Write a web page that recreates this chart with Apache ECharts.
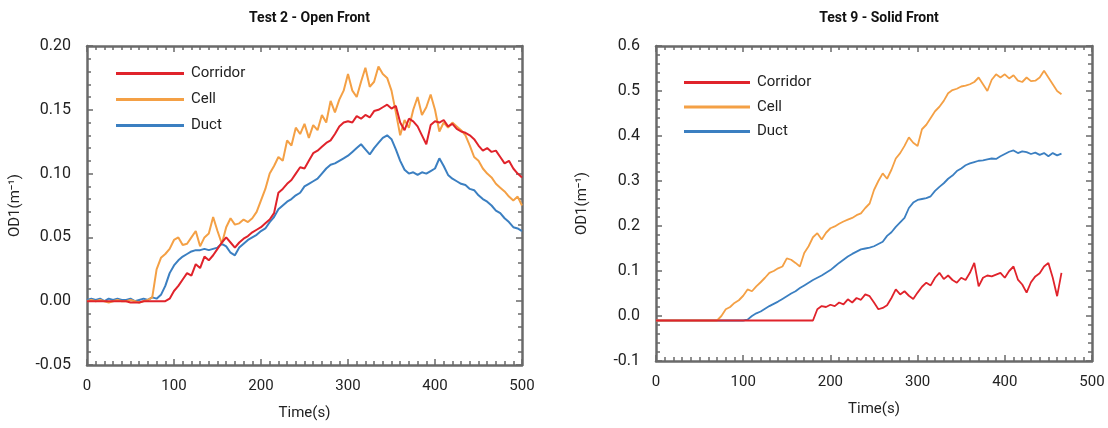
<!DOCTYPE html>
<html>
<head>
<meta charset="utf-8">
<script src="https://cdn.jsdelivr.net/npm/echarts@6/dist/echarts.min.js"></script>
<style>
  body { margin: 0; background: #fff; }
  #wrap { width: 1108px; height: 428px; display: flex; }
  #left, #right { width: 554px; height: 428px; }
</style>
</head>
<body>
<div id="wrap"><div id="left"></div><div id="right"></div></div>
<script>
const step = 5
const seriesNames = ['Corridor', 'Cell', 'Duct']
const colors = ['#e0232b', '#f4a045', '#3b7fc1']

// Test 2 - Open Front (t = 0 .. 500)
const openCorridor = [
  0, 0, 0, 0, 0, 0, 0, 0, 0, 0, -0.001, -0.001, -0.001, 0, 0, 0, 0, 0, 0,
  0.002, 0.008, 0.012, 0.017, 0.022, 0.020, 0.029, 0.026, 0.035, 0.032, 0.036,
  0.041, 0.046, 0.050, 0.046, 0.042, 0.046, 0.049, 0.051, 0.054, 0.056,
  0.058, 0.061, 0.064, 0.069, 0.085, 0.088, 0.092, 0.095, 0.100, 0.105,
  0.104, 0.110, 0.116, 0.118, 0.121, 0.124, 0.126, 0.131, 0.137, 0.140,
  0.141, 0.140, 0.145, 0.143, 0.146, 0.144, 0.149, 0.150, 0.152, 0.154,
  0.151, 0.153, 0.140, 0.134, 0.143, 0.141, 0.137, 0.130, 0.123, 0.138,
  0.141, 0.140, 0.142, 0.137, 0.139, 0.135, 0.133, 0.132, 0.130, 0.127,
  0.122, 0.118, 0.120, 0.117, 0.118, 0.113, 0.108, 0.110, 0.104, 0.100, 0.097
]
const openCell = [
  0, 0.001, 0, 0.001, 0, -0.001, 0, 0.001, 0, 0, 0.001, 0, -0.001, 0, 0.001,
  0.003, 0.025, 0.034, 0.037, 0.041, 0.048, 0.050, 0.044, 0.045, 0.050,
  0.055, 0.043, 0.050, 0.053, 0.066, 0.055, 0.045, 0.058, 0.065, 0.060,
  0.061, 0.064, 0.062, 0.065, 0.070, 0.079, 0.088, 0.100, 0.106, 0.113,
  0.110, 0.126, 0.122, 0.136, 0.131, 0.139, 0.128, 0.138, 0.134, 0.146,
  0.140, 0.157, 0.148, 0.158, 0.165, 0.178, 0.165, 0.160, 0.172, 0.183,
  0.168, 0.172, 0.184, 0.178, 0.175, 0.165, 0.148, 0.130, 0.142, 0.136,
  0.150, 0.160, 0.146, 0.152, 0.162, 0.150, 0.133, 0.140, 0.136, 0.140,
  0.137, 0.134, 0.130, 0.122, 0.113, 0.110, 0.104, 0.100, 0.097, 0.092,
  0.089, 0.086, 0.082, 0.079, 0.082, 0.075
]
const openDuct = [
  0.001, 0.002, 0.001, 0.002, 0, 0.002, 0.001, 0.002, 0.001, 0.001, 0.002,
  0, 0.001, 0.002, 0.001, 0.003, 0.002,
  0.005, 0.012, 0.022, 0.028, 0.032, 0.035, 0.037, 0.039, 0.040, 0.040,
  0.041, 0.040, 0.041, 0.042, 0.045, 0.043, 0.038, 0.036, 0.042, 0.045,
  0.048, 0.050, 0.052, 0.055, 0.057, 0.062, 0.066, 0.072, 0.075, 0.078,
  0.080, 0.083, 0.085, 0.090, 0.092, 0.094, 0.096, 0.100, 0.104, 0.107,
  0.108, 0.110, 0.112, 0.114, 0.117, 0.120, 0.123, 0.119, 0.115, 0.120,
  0.124, 0.128, 0.130, 0.127, 0.119, 0.110, 0.103, 0.100, 0.101, 0.099,
  0.101, 0.100, 0.102, 0.104, 0.112, 0.106, 0.099, 0.096, 0.094, 0.092,
  0.091, 0.088, 0.087, 0.083, 0.080, 0.078, 0.075, 0.071, 0.069, 0.065,
  0.062, 0.058, 0.057, 0.055
]

// Test 9 - Solid Front (t = 0 .. 465)
const solidCorridor = [
  -0.01, -0.01, -0.01, -0.01, -0.01, -0.01, -0.01, -0.01, -0.01, -0.01,
  -0.01, -0.01, -0.01, -0.01, -0.01, -0.01, -0.01, -0.01, -0.01, -0.01,
  -0.01, -0.01, -0.01, -0.01, -0.01, -0.01, -0.01, -0.01, -0.01, -0.01,
  -0.01, -0.01, -0.01, -0.01, -0.01, -0.01, -0.01,
  0.015, 0.022, 0.020, 0.025, 0.022, 0.030, 0.026, 0.037, 0.030, 0.040,
  0.036, 0.048, 0.044, 0.030, 0.015, 0.018, 0.024, 0.040, 0.059, 0.048,
  0.055, 0.045, 0.038, 0.052, 0.065, 0.074, 0.068, 0.085, 0.096, 0.082,
  0.090, 0.080, 0.074, 0.085, 0.080, 0.096, 0.118, 0.066, 0.085, 0.090,
  0.088, 0.092, 0.096, 0.085, 0.100, 0.110, 0.081, 0.070, 0.052, 0.075,
  0.088, 0.095, 0.110, 0.118, 0.085, 0.044, 0.096
]
const solidCell = [
  -0.01, -0.01, -0.01, -0.01, -0.01, -0.01, -0.01, -0.01, -0.01, -0.01,
  -0.01, -0.01, -0.01, -0.01, -0.01,
  0.000, 0.015, 0.020, 0.029, 0.035, 0.045, 0.059, 0.055, 0.066, 0.075,
  0.085, 0.096, 0.100, 0.106, 0.110, 0.128, 0.125, 0.118, 0.110, 0.140,
  0.155, 0.175, 0.184, 0.170, 0.185, 0.195, 0.199, 0.205, 0.210, 0.214,
  0.218, 0.224, 0.228, 0.240, 0.250, 0.280, 0.300, 0.317, 0.305, 0.325,
  0.350, 0.362, 0.378, 0.397, 0.385, 0.378, 0.415, 0.425, 0.440, 0.455,
  0.465, 0.478, 0.495, 0.502, 0.505, 0.510, 0.512, 0.515, 0.520, 0.530,
  0.515, 0.500, 0.525, 0.537, 0.530, 0.537, 0.528, 0.535, 0.523, 0.520,
  0.530, 0.522, 0.523, 0.530, 0.545, 0.530, 0.515, 0.500, 0.493
]
const solidDuct = [
  -0.01, -0.01, -0.01, -0.01, -0.01, -0.01, -0.01, -0.01, -0.01, -0.01,
  -0.01, -0.01, -0.01, -0.01, -0.01, -0.01, -0.01, -0.01, -0.01, -0.01,
  -0.01,
  -0.008, 0.000, 0.006, 0.010, 0.016, 0.022, 0.027, 0.032, 0.038, 0.044,
  0.050, 0.055, 0.062, 0.068, 0.074, 0.080, 0.085, 0.090, 0.096, 0.102,
  0.110, 0.118, 0.125, 0.132, 0.138, 0.143, 0.148, 0.150, 0.152, 0.155,
  0.160, 0.165, 0.178, 0.186, 0.198, 0.208, 0.218, 0.240, 0.252, 0.258,
  0.260, 0.262, 0.266, 0.278, 0.287, 0.295, 0.305, 0.312, 0.322, 0.328,
  0.335, 0.339, 0.342, 0.345, 0.346, 0.348, 0.350, 0.349, 0.355, 0.360,
  0.365, 0.368, 0.362, 0.366, 0.364, 0.360, 0.363, 0.358, 0.362, 0.355,
  0.362, 0.357, 0.361
]

function pairs(arr) {
  return arr.map((v, i) => [i * step, v])
}

const font = 'Roboto, "Noto Sans", sans-serif'
const frame = '#6a6a6a'

function axisBase() {
  return {
    type: 'value',
    axisLine: { show: true, onZero: false, lineStyle: { color: frame, width: 2.5 } },
    axisTick: { show: true, inside: true, length: 6, lineStyle: { color: frame, width: 1.5 } },
    minorTick: { show: true, length: 4, lineStyle: { color: frame, width: 1.5 } },
    splitLine: { show: false },
    minorSplitLine: { show: false }
  }
}

function xAxes() {
  const bottom = Object.assign(axisBase(), {
    min: 0, max: 500, interval: 100, position: 'bottom',
    name: 'Time(s)', nameLocation: 'middle', nameGap: 41,
    nameTextStyle: { fontFamily: font, fontSize: 15, color: '#222' },
    axisLabel: { fontFamily: font, fontSize: 15, color: '#222', margin: 14 }
  })
  bottom.minorTick.splitNumber = 10
  const top = Object.assign(axisBase(), {
    min: 0, max: 500, interval: 100, position: 'top', axisLabel: { show: false }
  })
  top.minorTick.splitNumber = 10
  return [bottom, top]
}

function yAxes(min, max, interval, digits, gap) {
  const left = Object.assign(axisBase(), {
    min: min, max: max, interval: interval, position: 'left',
    name: 'OD1(m⁻¹)', nameLocation: 'middle', nameGap: gap,
    nameTextStyle: { fontFamily: font, fontSize: 15, color: '#222' },
    axisLabel: {
      fontFamily: font, fontSize: 16, color: '#222', margin: 16,
      formatter: v => Number(v).toFixed(digits)
    }
  })
  const right = Object.assign(axisBase(), {
    min: min, max: max, interval: interval, position: 'right', axisLabel: { show: false }
  })
  return [left, right]
}

function lines(data, width) {
  return seriesNames.map((name, i) => ({
    name: name,
    type: 'line',
    data: pairs(data[i]),
    showSymbol: false,
    lineStyle: { color: colors[i], width: width },
    itemStyle: { color: colors[i] }
  })).reverse()
}

function panel(el, title, grid, legendPos, legendGap, legendWidth, y, data, width) {
  const chart = echarts.init(document.getElementById(el))
  chart.setOption({
    animation: false,
    title: {
      text: title, left: grid.left + grid.width / 2, top: 6, textAlign: 'center',
      textStyle: { fontFamily: font, fontSize: 14, fontWeight: 'bold', color: '#111' }
    },
    legend: {
      orient: 'vertical', left: legendPos[0], top: legendPos[1], padding: 0,
      itemWidth: legendWidth, itemHeight: 3, itemGap: legendGap, icon: 'rect',
      data: seriesNames, selectedMode: false,
      textStyle: { fontFamily: font, fontSize: 15, color: '#222', padding: [0, 0, 0, 2] }
    },
    grid: grid,
    xAxis: xAxes(),
    yAxis: yAxes(y[0], y[1], y[2], y[3], y[4]),
    series: lines(data, width)
  })
}

panel('left', 'Test 2 - Open Front', { left: 87, top: 46, width: 435, height: 319 },
  [116, 66], 11, 68, [-0.05, 0.2, 0.05, 2, 64],
  [openCorridor, openCell, openDuct], 2)

panel('right', 'Test 9 - Solid Front', { left: 102, top: 46, width: 436, height: 315 },
  [130, 75], 9.5, 66, [-0.1, 0.6, 0.1, 1, 66],
  [solidCorridor, solidCell, solidDuct], 1.8)
</script>
</body>
</html>
